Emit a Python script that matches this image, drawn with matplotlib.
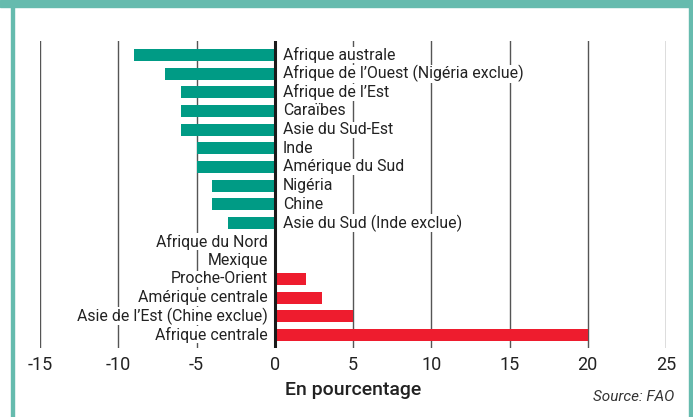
import matplotlib
matplotlib.use("Agg")
import matplotlib.pyplot as plt
from matplotlib.patches import Rectangle

regions = ["Afrique australe", "Afrique de l\u2019Ouest (Nigéria exclue)", "Afrique de l\u2019Est",
           "Caraïbes", "Asie du Sud-Est", "Inde", "Amérique du Sud", "Nigéria", "Chine",
           "Asie du Sud (Inde exclue)", "Afrique du Nord", "Mexique", "Proche-Orient",
           "Amérique centrale", "Asie de l\u2019Est (Chine exclue)", "Afrique centrale"]
change = [-9, -7, -6, -6, -6, -5, -5, -4, -4, -3, 0, 0, 2, 3, 5, 20]
xticks = [-15, -10, -5, 0, 5, 10, 15, 20, 25]

teal = "#009B85"
red = "#EE1C2E"
frame = "#66BBAE"

plt.rcParams['font.family'] = ['Roboto', 'DejaVu Sans']

fig = plt.figure(figsize=(6.93, 4.17), dpi=100)
ax = fig.add_axes([40/693, 1 - 348/417, 626/693, 307/417])

# frame around the chart
fig.patches.append(Rectangle((0, 1 - 7/417), 1, 7/417, transform=fig.transFigure, color=frame, zorder=0))
fig.patches.append(Rectangle((11/693, 0), 3/693, 1, transform=fig.transFigure, color=frame, zorder=0))
fig.patches.append(Rectangle((689/693, 0), 3/693, 1, transform=fig.transFigure, color=frame, zorder=0))

ypos = list(range(len(regions)))
colors = [teal if v < 0 else red for v in change]
ax.barh(ypos, change, height=0.64, color=colors, zorder=2)

for x in xticks:
    if x != 0:
        ax.axvline(x, color="#555555", lw=1, zorder=1)
ax.axvline(0, color="#1a1a1a", lw=2.2, zorder=4)

for y, (name, v) in enumerate(zip(regions, change)):
    if v < 0:
        ax.annotate(name, (0, y), xytext=(6, 0), textcoords="offset points",
                    ha="left", va="center", fontsize=11.4, color="#222222", zorder=3,
                    bbox=dict(fc="white", ec="none", pad=0.3))
    else:
        ax.annotate(name, (0, y), xytext=(-5, 0), textcoords="offset points",
                    ha="right", va="center", fontsize=11.4, color="#222222", zorder=3,
                    bbox=dict(fc="white", ec="none", pad=0.3))

ax.set_xlim(-15, 25)
ax.set_ylim(len(regions) - 0.3, -0.75)
ax.set_xticks(xticks)
ax.set_xticklabels([str(x) for x in xticks], fontsize=13, color="#222222")
ax.set_yticks([])
ax.tick_params(axis="x", length=0, pad=6)
for s in ax.spines.values():
    s.set_visible(False)

ax.set_xlabel("En pourcentage", fontsize=14, fontweight="medium", color="#222222", labelpad=5)
fig.text(674/693, 1 - 397/417, "Source: FAO", ha="right", va="center",
         fontsize=11, style="italic", color="#333333")

fig.savefig("out.png", dpi=100)
